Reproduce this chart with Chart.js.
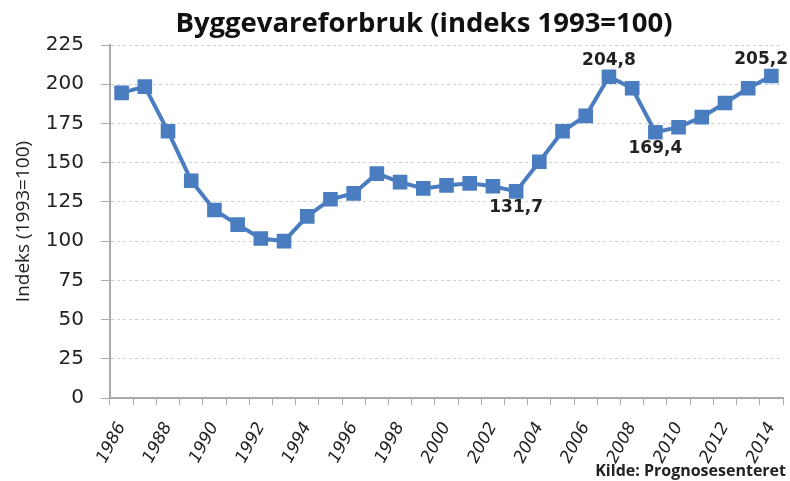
<!DOCTYPE html>
<html lang="no">
  <head>
    <meta charset="UTF-8" />
    <title>Byggevareforbruk</title>
    <script src="https://cdn.jsdelivr.net/npm/chart.js"></script>
    <style>
      body {
        margin: 0;
        background: #ffffff;
      }
      .boks {
        width: 790px;
        height: 481px;
        position: relative;
      }
    </style>
  </head>
  <body>
    <div class="boks">
      <canvas id="graf"></canvas>
    </div>

    <script>
      // Data lest av bildet
      const aar = [
        "1986", "1987", "1988", "1989", "1990", "1991", "1992", "1993",
        "1994", "1995", "1996", "1997", "1998", "1999", "2000", "2001",
        "2002", "2003", "2004", "2005", "2006", "2007", "2008", "2009",
        "2010", "2011", "2012", "2013", "2014",
      ];
      const indeks = [
        194.5, 198.5, 170, 138.5, 119.8, 110.5, 101.7, 100,
        115.8, 126.7, 130.4, 143, 137.6, 133.6, 135.5, 136.8,
        135, 131.7, 150.6, 170, 179.8, 204.8, 197.4, 169.4,
        172.6, 179, 188, 197.4, 205.2,
      ];
      // punkter med etikett: indeks i serien og plassering
      const etikettPunkter = [17, 21, 23, 28];
      const etikettOver = [false, true, false, true];

      const skrift = "'DejaVu Sans', sans-serif";

      // tegner tittel, verdietiketter og kildetekst
      const etiketter = {
        id: "etiketter",
        afterDatasetsDraw(chart) {
          const ctx = chart.ctx;
          const meta = chart.getDatasetMeta(0);
          ctx.save();
          ctx.fillStyle = "#111";
          ctx.font = "bold 27.5px 'Open Sans', sans-serif";
          ctx.textAlign = "center";
          ctx.textBaseline = "alphabetic";
          ctx.fillText("Byggevareforbruk (indeks 1993=100)", 424, 32);

          ctx.fillStyle = "#222";
          ctx.font = "bold 17px " + skrift;
          ctx.textBaseline = "middle";
          etikettPunkter.forEach((i, n) => {
            const p = meta.data[i];
            const tekst = indeks[i].toFixed(1).replace(".", ",");
            const dy = etikettOver[n] ? -16 : 16;
            // hold etiketten innenfor lerretet
            const halv = ctx.measureText(tekst).width / 2;
            const x = Math.min(p.x, chart.width - halv - 2);
            ctx.fillText(tekst, x, p.y + dy);
          });
          ctx.font = "bold 16px 'Open Sans', sans-serif";
          ctx.textAlign = "right";
          ctx.textBaseline = "alphabetic";
          ctx.fillText("Kilde: Prognosesenteret", 786, 476);
          ctx.restore();
        },
      };

      new Chart(document.getElementById("graf"), {
        type: "line",
        data: {
          labels: aar,
          datasets: [
            {
              data: indeks,
              borderColor: "#4a7dc0",
              backgroundColor: "#4a7dc0",
              borderWidth: 4,
              pointStyle: "rect",
              pointRadius: 7.5,
              pointHoverRadius: 7.5,
              tension: 0,
            },
          ],
        },
        options: {
          responsive: true,
          maintainAspectRatio: false,
          animation: false,
          layout: {
            autoPadding: false,
            padding: { left: 0, right: 7, top: 45, bottom: 0 },
          },
          plugins: {
            legend: { display: false },
            tooltip: { enabled: false },
            title: { display: false },
          },
          scales: {
            x: {
              offset: true,
              grid: {
                offset: true,
                drawOnChartArea: false,
                drawTicks: true,
                tickLength: 7,
                color: "#aaa",
              },
              border: { color: "#aaa", width: 2 },
              ticks: {
                minRotation: 62,
                maxRotation: 62,
                autoSkip: false,
                color: "#222",
                padding: 14,
                font: { family: skrift, size: 17, style: "italic" },
                callback: function (v, i) {
                  return i % 2 === 0 ? aar[i] : "";
                },
              },
              afterFit(scale) {
                scale.height = 83;
                // ingen ekstra sidemarg for de roterte etikettene
                scale.paddingLeft = 0;
                scale.paddingRight = 0;
              },
            },
            y: {
              min: 0,
              max: 225,
              ticks: {
                stepSize: 25,
                color: "#222",
                padding: 17,
                font: { family: skrift, size: 20 },
              },
              grid: {
                color: "#cfcfcf",
                tickColor: "#aaa",
                tickLength: 9,
              },
              border: { color: "#aaa", width: 2, dash: [3, 3] },
              title: {
                display: true,
                text: "Indeks (1993=100)",
                color: "#222",
                font: { family: "'Open Sans', sans-serif", size: 19 },
                padding: { top: 12, bottom: 0 },
              },
              afterFit(scale) {
                scale.width = 110;
              },
            },
          },
        },
        plugins: [etiketter],
      });
    </script>
  </body>
</html>
